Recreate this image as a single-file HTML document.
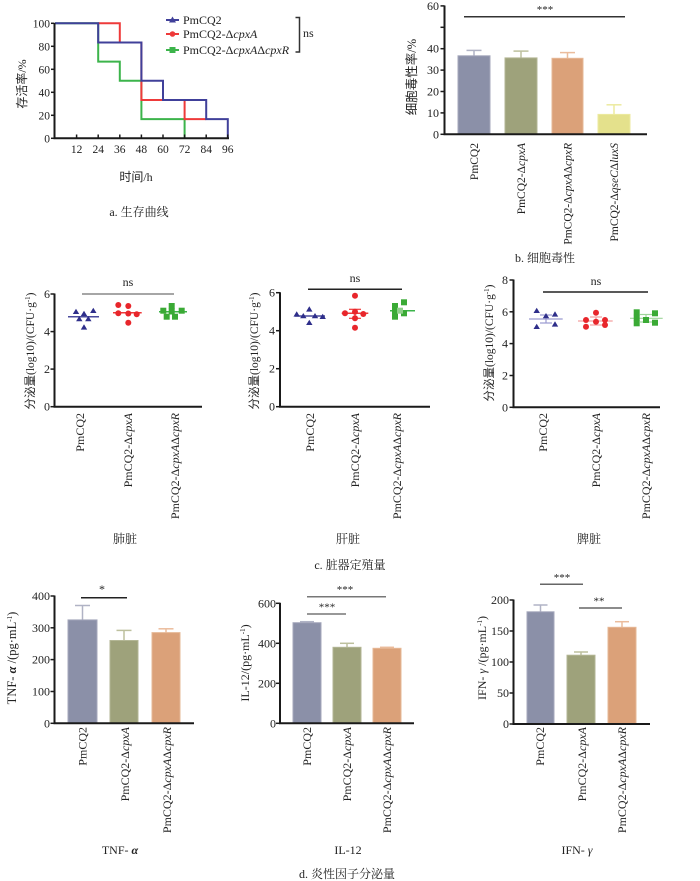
<!DOCTYPE html>
<html><head><meta charset="utf-8"><style>
html,body{margin:0;padding:0;background:#fff;}
svg{display:block;}
.t{font-family:"Liberation Serif","Noto Serif CJK SC",serif;fill:#222;}
.cj{font-family:"Liberation Serif","Noto Sans CJK SC",sans-serif;fill:#222;}
.cap{font-family:"Liberation Serif","Noto Serif CJK SC",serif;fill:#222;font-size:12px;}
.ax{stroke:#1a1a1a;stroke-width:2;fill:none;}
.tk{stroke:#1a1a1a;stroke-width:1.5;}
</style></head><body>
<svg width="700" height="881" viewBox="0 0 700 881" xmlns="http://www.w3.org/2000/svg">
<rect width="700" height="881" fill="#fff"/>

<!-- ===== Panel a ===== -->
<g>
<path d="M55,23.3 H98.2 V61.6 H119.8 V80.8 H141.4 V119.1 H184.6 V138.3" stroke="#3cb44b" stroke-width="2" fill="none"/>
<path d="M98.2,23.3 H119.8 V42.5 H141.4 V100 H184.6 V119.1 H206.2" stroke="#ee3a3a" stroke-width="2" fill="none"/>
<path d="M55,23.3 H98.2 V42.5 H141.4 V80.8 H163 V100 H206.2 V119.1 H227.8 V138.3" stroke="#40409a" stroke-width="2" fill="none"/>
<path class="ax" d="M54.5,23 V138.3 H229"/>
<g class="tk">
<line x1="51" y1="23.3" x2="54.5" y2="23.3"/><line x1="51" y1="46.3" x2="54.5" y2="46.3"/>
<line x1="51" y1="69.3" x2="54.5" y2="69.3"/><line x1="51" y1="92.3" x2="54.5" y2="92.3"/>
<line x1="51" y1="115.3" x2="54.5" y2="115.3"/>
<line x1="51" y1="138.3" x2="54.5" y2="138.3"/>
<line x1="76.6" y1="134.5" x2="76.6" y2="138.3"/><line x1="98.2" y1="134.5" x2="98.2" y2="138.3"/>
<line x1="119.8" y1="134.5" x2="119.8" y2="138.3"/><line x1="141.4" y1="134.5" x2="141.4" y2="138.3"/>
<line x1="163" y1="134.5" x2="163" y2="138.3"/><line x1="184.6" y1="134.5" x2="184.6" y2="138.3"/>
<line x1="206.2" y1="134.5" x2="206.2" y2="138.3"/><line x1="227.8" y1="134.5" x2="227.8" y2="138.3"/>
</g>
<g class="t" font-size="11.5" text-anchor="end">
<text x="50" y="27.3">100</text><text x="50" y="50.3">80</text><text x="50" y="73.3">60</text>
<text x="50" y="96.3">40</text><text x="50" y="119.3">20</text><text x="50" y="142.3">0</text>
</g>
<g class="t" font-size="11.5" text-anchor="middle">
<text x="76.6" y="153">12</text><text x="98.2" y="153">24</text><text x="119.8" y="153">36</text>
<text x="141.4" y="153">48</text><text x="163" y="153">60</text><text x="184.6" y="153">72</text>
<text x="206.2" y="153">84</text><text x="227.8" y="153">96</text>
</g>
<text class="cj" font-size="12" text-anchor="middle" transform="rotate(-90 26 84)" x="26" y="84">存活率/%</text>
<text class="cj" font-size="12" text-anchor="middle" x="136" y="181">时间/h</text>
<!-- legend -->
<line x1="166" y1="20" x2="179" y2="20" stroke="#40409a" stroke-width="2"/>
<polygon points="172.5,16.5 176,22.5 169,22.5" fill="#40409a"/>
<line x1="166" y1="34" x2="179" y2="34" stroke="#ee3a3a" stroke-width="2"/>
<circle cx="172.5" cy="34" r="2.8" fill="#ee3a3a"/>
<line x1="166" y1="50" x2="179" y2="50" stroke="#3cb44b" stroke-width="2"/>
<rect x="169.5" y="47" width="6" height="6" fill="#3cb44b"/>
<g class="t" font-size="12">
<text x="183" y="24">PmCQ2</text>
<text x="183" y="38">PmCQ2-Δ<tspan font-style="italic">cpxA</tspan></text>
<text x="183" y="54">PmCQ2-Δ<tspan font-style="italic">cpxA</tspan>Δ<tspan font-style="italic">cpxR</tspan></text>
</g>
<path d="M295.5,17.5 H299.5 V52 H295.5" stroke="#333" stroke-width="1.5" fill="none"/>
<text class="t" font-size="12" x="303" y="37">ns</text>
<text class="cap" text-anchor="middle" x="139" y="216">a. 生存曲线</text>
</g>

<!-- ===== Panel b ===== -->
<g>
<line x1="464" y1="16.7" x2="625" y2="16.7" stroke="#333" stroke-width="1.5"/>
<text class="t" font-size="11" text-anchor="middle" x="545" y="13">***</text>
<g stroke-width="1.5">
<line x1="474" y1="55.8" x2="474" y2="50.4" stroke="#b0b3c5"/><line x1="466.5" y1="50.4" x2="481.5" y2="50.4" stroke="#b0b3c5"/>
<line x1="521" y1="57.9" x2="521" y2="51.1" stroke="#bdc09e"/><line x1="513.5" y1="51.1" x2="528.5" y2="51.1" stroke="#bdc09e"/>
<line x1="567.5" y1="58.3" x2="567.5" y2="52.6" stroke="#ebbc9c"/><line x1="560" y1="52.6" x2="575" y2="52.6" stroke="#ebbc9c"/>
<line x1="614" y1="114.4" x2="614" y2="104.8" stroke="#ecea9f"/><line x1="606.5" y1="104.8" x2="621.5" y2="104.8" stroke="#ecea9f"/>
</g>
<rect x="458" y="55.8" width="32" height="78.5" fill="#8b90a8" stroke="#a4a7bb" stroke-width="1"/>
<rect x="505" y="57.9" width="32" height="76.4" fill="#9ea27b" stroke="#b3b695" stroke-width="1"/>
<rect x="552" y="58.3" width="31" height="76" fill="#dba179" stroke="#e6b896" stroke-width="1"/>
<rect x="598" y="114.4" width="32" height="19.9" fill="#e4e18c" stroke="#ecea9f" stroke-width="1"/>
<path class="ax" d="M444.5,5.5 V134.3 H647"/>
<g class="tk">
<line x1="440.5" y1="5.9" x2="444.5" y2="5.9"/><line x1="440.5" y1="27.3" x2="444.5" y2="27.3"/>
<line x1="440.5" y1="48.7" x2="444.5" y2="48.7"/><line x1="440.5" y1="70.1" x2="444.5" y2="70.1"/>
<line x1="440.5" y1="91.5" x2="444.5" y2="91.5"/><line x1="440.5" y1="112.9" x2="444.5" y2="112.9"/>
<line x1="440.5" y1="134.3" x2="444.5" y2="134.3"/>
</g>
<g class="t" font-size="12" text-anchor="end">
<text x="439" y="10">60</text><text x="439" y="52.7">40</text><text x="439" y="74.1">30</text>
<text x="439" y="95.5">20</text><text x="439" y="116.9">10</text><text x="439" y="138.3">0</text>
</g>
<text class="cj" font-size="12.5" text-anchor="middle" transform="rotate(-90 416 77)" x="416" y="77">细胞毒性率/%</text>
<g class="t" font-size="11.5" text-anchor="end">
<text transform="rotate(-90 478 143)" x="478" y="143">PmCQ2</text>
<text transform="rotate(-90 525 143)" x="525" y="143">PmCQ2-Δ<tspan font-style="italic">cpxA</tspan></text>
<text transform="rotate(-90 571.5 143)" x="571.5" y="143">PmCQ2-Δ<tspan font-style="italic">cpxA</tspan>Δ<tspan font-style="italic">cpxR</tspan></text>
<text transform="rotate(-90 618 143)" x="618" y="143">PmCQ2-Δ<tspan font-style="italic">qseC</tspan>Δ<tspan font-style="italic">luxS</tspan></text>
</g>
<text class="cap" text-anchor="middle" x="545" y="262">b. 细胞毒性</text>
</g>

<!-- ===== Panel c left ===== -->
<g>
<line x1="82" y1="294" x2="174" y2="294" stroke="#888" stroke-width="1.5"/>
<text class="t" font-size="12" text-anchor="middle" x="128" y="286">ns</text>
<path class="ax" d="M54.5,293.5 V406.7 H202"/>
<g class="tk">
<line x1="50.5" y1="294" x2="54.5" y2="294"/><line x1="50.5" y1="331.6" x2="54.5" y2="331.6"/>
<line x1="50.5" y1="369.1" x2="54.5" y2="369.1"/><line x1="50.5" y1="406.7" x2="54.5" y2="406.7"/>
</g>
<g class="t" font-size="12" text-anchor="end">
<text x="50" y="298">6</text><text x="50" y="335.6">4</text><text x="50" y="373.1">2</text><text x="50" y="410.7">0</text>
</g>
<line x1="68" y1="316.7" x2="99" y2="316.7" stroke="#4a4a9c" stroke-width="1.5"/>
<g fill="#2e2e8a">
<polygon points="76,308.7 79.2,314 72.8,314"/><polygon points="84,310.7 87.2,316 80.8,316"/>
<polygon points="93.3,307.7 96.5,313 90.1,313"/><polygon points="79.3,316 82.5,321.3 76.1,321.3"/>
<polygon points="88.3,316 91.5,321.3 85.1,321.3"/><polygon points="84,324.3 87.2,329.6 80.8,329.6"/>
</g>
<line x1="113" y1="312.7" x2="141.7" y2="312.7" stroke="#ee3a3a" stroke-width="1.5"/>
<g fill="#e8262b">
<circle cx="118.3" cy="305" r="3"/><circle cx="128.3" cy="306" r="3"/><circle cx="118.3" cy="313.3" r="3"/>
<circle cx="136.7" cy="314.3" r="3"/><circle cx="128.3" cy="322.7" r="3"/><circle cx="128.3" cy="313.5" r="3"/>
</g>
<line x1="159" y1="311.7" x2="187" y2="311.7" stroke="#3cb44b" stroke-width="1.5"/>
<g fill="#3aaa35">
<rect x="160.3" y="307.7" width="6" height="6"/><rect x="168.7" y="303" width="6" height="6"/>
<rect x="178.7" y="307.7" width="6" height="6"/><rect x="163.7" y="313.7" width="6" height="6"/>
<rect x="172" y="313.7" width="6" height="6"/><rect x="168.7" y="308.5" width="6" height="6"/>
</g>
<text class="cj" font-size="11.5" text-anchor="middle" transform="rotate(-90 34 351)" x="34" y="351">分泌量(log10)/(CFU·g<tspan font-size="7" dy="-4">-1</tspan><tspan dy="4">)</tspan></text>
<g class="t" font-size="12" text-anchor="end">
<text transform="rotate(-90 84 413)" x="84" y="413">PmCQ2</text>
<text transform="rotate(-90 132 413)" x="132" y="413">PmCQ2-Δ<tspan font-style="italic">cpxA</tspan></text>
<text transform="rotate(-90 179 413)" x="179" y="413">PmCQ2-Δ<tspan font-style="italic">cpxA</tspan>Δ<tspan font-style="italic">cpxR</tspan></text>
</g>
<text class="cap" text-anchor="middle" x="125" y="543">肺脏</text>
</g>

<!-- ===== Panel c middle ===== -->
<g>
<line x1="308" y1="289.3" x2="402" y2="289.3" stroke="#222" stroke-width="1.5"/>
<text class="t" font-size="12" text-anchor="middle" x="355" y="282">ns</text>
<path class="ax" d="M280,292.2 V406.7 H430"/>
<g class="tk">
<line x1="276" y1="292.7" x2="280" y2="292.7"/><line x1="276" y1="330.7" x2="280" y2="330.7"/>
<line x1="276" y1="368.7" x2="280" y2="368.7"/><line x1="276" y1="406.7" x2="280" y2="406.7"/>
</g>
<g class="t" font-size="12" text-anchor="end">
<text x="275" y="296.7">6</text><text x="275" y="334.7">4</text><text x="275" y="372.7">2</text><text x="275" y="410.7">0</text>
</g>
<line x1="295" y1="316" x2="325" y2="316" stroke="#4a4a9c" stroke-width="1.5"/>
<g fill="#2e2e8a">
<polygon points="296.7,311.3 299.9,316.6 293.5,316.6"/><polygon points="309.3,306.3 312.5,311.6 306.1,311.6"/>
<polygon points="322.7,313.7 325.9,319 319.5,319"/><polygon points="309.3,319.7 312.5,325 306.1,325"/>
<polygon points="303.3,313 306.5,318.3 300.1,318.3"/><polygon points="315,313 318.2,318.3 311.8,318.3"/>
</g>
<g stroke="#ee3a3a" stroke-width="1.2">
<line x1="355" y1="309.3" x2="355" y2="318.3"/><line x1="349" y1="309.3" x2="361" y2="309.3"/><line x1="349" y1="318.3" x2="361" y2="318.3"/>
</g>
<line x1="341.7" y1="313.3" x2="368.3" y2="313.3" stroke="#ee3a3a" stroke-width="1.5"/>
<g fill="#e8262b">
<circle cx="355" cy="295.7" r="3"/><circle cx="345" cy="313.3" r="3"/><circle cx="363.3" cy="314" r="3"/>
<circle cx="355" cy="311.7" r="3"/><circle cx="355" cy="318.3" r="3"/><circle cx="355" cy="327.7" r="3"/>
</g>
<line x1="390" y1="310.7" x2="415" y2="310.7" stroke="#3cb44b" stroke-width="1.5"/>
<g fill="#3aaa35">
<rect x="392" y="303" width="6" height="6"/><rect x="401" y="299.3" width="6" height="6"/>
<rect x="392" y="313.7" width="6" height="6"/><rect x="401" y="310.3" width="6" height="6"/>
<rect x="392" y="308" width="6" height="6"/><rect x="397" y="307.7" width="6" height="6" fill="#8fd08a"/>
</g>
<text class="cj" font-size="11.5" text-anchor="middle" transform="rotate(-90 258 351)" x="258" y="351">分泌量(log10)/(CFU·g<tspan font-size="7" dy="-4">-1</tspan><tspan dy="4">)</tspan></text>
<g class="t" font-size="12" text-anchor="end">
<text transform="rotate(-90 314 413)" x="314" y="413">PmCQ2</text>
<text transform="rotate(-90 359 413)" x="359" y="413">PmCQ2-Δ<tspan font-style="italic">cpxA</tspan></text>
<text transform="rotate(-90 401 413)" x="401" y="413">PmCQ2-Δ<tspan font-style="italic">cpxA</tspan>Δ<tspan font-style="italic">cpxR</tspan></text>
</g>
<text class="cap" text-anchor="middle" x="348" y="543">肝脏</text>
<text class="cap" text-anchor="middle" x="350" y="569">c. 脏器定殖量</text>
</g>

<!-- ===== Panel c right ===== -->
<g>
<line x1="543" y1="292" x2="648" y2="292" stroke="#222" stroke-width="1.5"/>
<text class="t" font-size="12" text-anchor="middle" x="596" y="285">ns</text>
<path class="ax" d="M513.5,279.5 V407.3 H660"/>
<g class="tk">
<line x1="509.5" y1="280" x2="513.5" y2="280"/><line x1="509.5" y1="311.8" x2="513.5" y2="311.8"/>
<line x1="509.5" y1="343.6" x2="513.5" y2="343.6"/><line x1="509.5" y1="375.5" x2="513.5" y2="375.5"/>
<line x1="509.5" y1="407.3" x2="513.5" y2="407.3"/>
</g>
<g class="t" font-size="12" text-anchor="end">
<text x="508" y="284">8</text><text x="508" y="315.8">6</text><text x="508" y="347.6">4</text>
<text x="508" y="379.5">2</text><text x="508" y="411.3">0</text>
</g>
<g stroke="#9a9ad0" stroke-width="1.2">
<line x1="529" y1="319" x2="562.7" y2="319"/><line x1="546" y1="315" x2="546" y2="323"/>
<line x1="540" y1="315" x2="552" y2="315"/><line x1="540" y1="323" x2="552" y2="323"/>
</g>
<g fill="#2e2e8a">
<polygon points="536.7,307.7 539.9,313 533.5,313"/><polygon points="546,313 549.2,318.3 542.8,318.3"/>
<polygon points="555,311.3 558.2,316.6 551.8,316.6"/><polygon points="536.7,323.7 539.9,329 533.5,329"/>
<polygon points="555,321.3 558.2,326.6 551.8,326.6"/>
</g>
<g stroke="#f3a0a0" stroke-width="1.2">
<line x1="578" y1="321" x2="612.7" y2="321"/><line x1="596" y1="317" x2="596" y2="325"/>
<line x1="590" y1="317" x2="602" y2="317"/><line x1="590" y1="325" x2="602" y2="325"/>
</g>
<g fill="#e8262b">
<circle cx="586" cy="320" r="3"/><circle cx="596" cy="312.7" r="3"/><circle cx="605" cy="320" r="3"/>
<circle cx="586" cy="326.7" r="3"/><circle cx="605" cy="325" r="3"/><circle cx="596" cy="321.7" r="3"/>
</g>
<g stroke="#9ed49a" stroke-width="1.2">
<line x1="630" y1="318.3" x2="662.7" y2="318.3"/><line x1="646" y1="314.5" x2="646" y2="322"/>
<line x1="640" y1="314.5" x2="652" y2="314.5"/><line x1="640" y1="322" x2="652" y2="322"/>
</g>
<g fill="#3aaa35">
<rect x="633.7" y="309.3" width="6" height="6"/><rect x="652" y="310.3" width="6" height="6"/>
<rect x="633.7" y="320.3" width="6" height="6"/><rect x="643" y="317" width="6" height="6"/>
<rect x="652" y="319.7" width="6" height="6"/><rect x="633.7" y="314.7" width="6" height="6"/>
</g>
<text class="cj" font-size="11.5" text-anchor="middle" transform="rotate(-90 493 343)" x="493" y="343">分泌量(log10)/(CFU·g<tspan font-size="7" dy="-4">-1</tspan><tspan dy="4">)</tspan></text>
<g class="t" font-size="12" text-anchor="end">
<text transform="rotate(-90 547 413)" x="547" y="413">PmCQ2</text>
<text transform="rotate(-90 600 413)" x="600" y="413">PmCQ2-Δ<tspan font-style="italic">cpxA</tspan></text>
<text transform="rotate(-90 650 413)" x="650" y="413">PmCQ2-Δ<tspan font-style="italic">cpxA</tspan>Δ<tspan font-style="italic">cpxR</tspan></text>
</g>
<text class="cap" text-anchor="middle" x="589" y="543">脾脏</text>
</g>

<!-- ===== Panel d left ===== -->
<g>
<line x1="81" y1="597.7" x2="127" y2="597.7" stroke="#222" stroke-width="1.5"/>
<text class="t" font-size="12" text-anchor="middle" x="102" y="593">*</text>
<g stroke-width="1.5">
<line x1="82.5" y1="619.9" x2="82.5" y2="605.5" stroke="#b0b3c5"/><line x1="75" y1="605.5" x2="90" y2="605.5" stroke="#b0b3c5"/>
<line x1="124" y1="640.5" x2="124" y2="630.4" stroke="#bdc09e"/><line x1="116.5" y1="630.4" x2="131.5" y2="630.4" stroke="#bdc09e"/>
<line x1="166" y1="632.6" x2="166" y2="628.8" stroke="#ebbc9c"/><line x1="158.5" y1="628.8" x2="173.5" y2="628.8" stroke="#ebbc9c"/>
</g>
<rect x="68" y="619.9" width="29" height="103.4" fill="#8b90a8" stroke="#a4a7bb" stroke-width="1"/>
<rect x="110" y="640.5" width="28" height="82.8" fill="#9ea27b" stroke="#b3b695" stroke-width="1"/>
<rect x="152" y="632.6" width="28" height="90.7" fill="#dba179" stroke="#e6b896" stroke-width="1"/>
<path class="ax" d="M54.5,595.5 V723.3 H194"/>
<g class="tk">
<line x1="50.5" y1="596" x2="54.5" y2="596"/><line x1="50.5" y1="627.8" x2="54.5" y2="627.8"/>
<line x1="50.5" y1="659.6" x2="54.5" y2="659.6"/><line x1="50.5" y1="691.5" x2="54.5" y2="691.5"/>
<line x1="50.5" y1="723.3" x2="54.5" y2="723.3"/>
</g>
<g class="t" font-size="12" text-anchor="end">
<text x="50" y="600">400</text><text x="50" y="631.8">300</text><text x="50" y="663.6">200</text>
<text x="50" y="695.5">100</text><text x="50" y="727.3">0</text>
</g>
<text class="t" font-size="12.5" text-anchor="middle" transform="rotate(-90 16 658)" x="16" y="658">TNF- <tspan font-weight="bold" font-style="italic">α</tspan> /(pg·mL<tspan font-size="7" dy="-4">-1</tspan><tspan dy="4">)</tspan></text>
<g class="t" font-size="12" text-anchor="end">
<text transform="rotate(-90 86.5 727)" x="86.5" y="727">PmCQ2</text>
<text transform="rotate(-90 129 727)" x="129" y="727">PmCQ2-Δ<tspan font-style="italic">cpxA</tspan></text>
<text transform="rotate(-90 171 727)" x="171" y="727">PmCQ2-Δ<tspan font-style="italic">cpxA</tspan>Δ<tspan font-style="italic">cpxR</tspan></text>
</g>
<text class="t" font-size="12" text-anchor="middle" x="120" y="854">TNF- <tspan font-weight="bold" font-style="italic">α</tspan></text>
</g>

<!-- ===== Panel d middle ===== -->
<g>
<line x1="307" y1="596.7" x2="386" y2="596.7" stroke="#777" stroke-width="1.5"/>
<text class="t" font-size="11" text-anchor="middle" x="345" y="593" fill="#555">***</text>
<line x1="307" y1="614" x2="346" y2="614" stroke="#777" stroke-width="1.5"/>
<text class="t" font-size="11" text-anchor="middle" x="327" y="610.5" fill="#555">***</text>
<g stroke-width="1.5">
<line x1="307" y1="622.7" x2="307" y2="621.7" stroke="#b0b3c5"/><line x1="300" y1="621.7" x2="314" y2="621.7" stroke="#b0b3c5"/>
<line x1="347" y1="647.3" x2="347" y2="643.3" stroke="#bdc09e"/><line x1="340" y1="643.3" x2="354" y2="643.3" stroke="#bdc09e"/>
<line x1="387" y1="648.3" x2="387" y2="647.3" stroke="#ebbc9c"/><line x1="380" y1="647.3" x2="394" y2="647.3" stroke="#ebbc9c"/>
</g>
<rect x="293" y="622.7" width="28" height="100.6" fill="#8b90a8" stroke="#a4a7bb" stroke-width="1"/>
<rect x="333" y="647.3" width="28" height="76" fill="#9ea27b" stroke="#b3b695" stroke-width="1"/>
<rect x="373" y="648.3" width="28" height="75" fill="#dba179" stroke="#e6b896" stroke-width="1"/>
<path class="ax" d="M280,602.8 V723.3 H414"/>
<g class="tk">
<line x1="276" y1="603.3" x2="280" y2="603.3"/><line x1="276" y1="643.3" x2="280" y2="643.3"/>
<line x1="276" y1="683.3" x2="280" y2="683.3"/><line x1="276" y1="723.3" x2="280" y2="723.3"/>
</g>
<g class="t" font-size="12" text-anchor="end">
<text x="276" y="607.3">600</text><text x="276" y="647.3">400</text><text x="276" y="687.3">200</text><text x="276" y="727.3">0</text>
</g>
<text class="t" font-size="12" text-anchor="middle" transform="rotate(-90 249 663)" x="249" y="663">IL-12/(pg·mL<tspan font-size="7" dy="-4">-1</tspan><tspan dy="4">)</tspan></text>
<g class="t" font-size="12" text-anchor="end">
<text transform="rotate(-90 311 727)" x="311" y="727">PmCQ2</text>
<text transform="rotate(-90 351 727)" x="351" y="727">PmCQ2-Δ<tspan font-style="italic">cpxA</tspan></text>
<text transform="rotate(-90 391 727)" x="391" y="727">PmCQ2-Δ<tspan font-style="italic">cpxA</tspan>Δ<tspan font-style="italic">cpxR</tspan></text>
</g>
<text class="t" font-size="12" text-anchor="middle" x="348" y="854">IL-12</text>
<text class="cap" text-anchor="middle" x="347" y="878">d. 炎性因子分泌量</text>
</g>

<!-- ===== Panel d right ===== -->
<g>
<line x1="540" y1="584.3" x2="583" y2="584.3" stroke="#666" stroke-width="1.5"/>
<text class="t" font-size="11" text-anchor="middle" x="562" y="581" fill="#555">***</text>
<line x1="579" y1="608" x2="622" y2="608" stroke="#666" stroke-width="1.5"/>
<text class="t" font-size="11" text-anchor="middle" x="599" y="604.5" fill="#555">**</text>
<g stroke-width="1.5">
<line x1="540.5" y1="611.8" x2="540.5" y2="605" stroke="#b0b3c5"/><line x1="533.5" y1="605" x2="547.5" y2="605" stroke="#b0b3c5"/>
<line x1="581" y1="655.2" x2="581" y2="652" stroke="#bdc09e"/><line x1="574" y1="652" x2="588" y2="652" stroke="#bdc09e"/>
<line x1="622" y1="627.3" x2="622" y2="621.7" stroke="#ebbc9c"/><line x1="615" y1="621.7" x2="629" y2="621.7" stroke="#ebbc9c"/>
</g>
<rect x="527" y="611.8" width="27" height="112.2" fill="#8b90a8" stroke="#a4a7bb" stroke-width="1"/>
<rect x="567" y="655.2" width="28" height="68.8" fill="#9ea27b" stroke="#b3b695" stroke-width="1"/>
<rect x="608" y="627.3" width="28" height="96.7" fill="#dba179" stroke="#e6b896" stroke-width="1"/>
<path class="ax" d="M513.5,599.5 V724 H650"/>
<g class="tk">
<line x1="509.5" y1="600" x2="513.5" y2="600"/><line x1="509.5" y1="631" x2="513.5" y2="631"/>
<line x1="509.5" y1="662" x2="513.5" y2="662"/><line x1="509.5" y1="693" x2="513.5" y2="693"/>
<line x1="509.5" y1="724" x2="513.5" y2="724"/>
</g>
<g class="t" font-size="12" text-anchor="end">
<text x="509" y="604">200</text><text x="509" y="635">150</text><text x="509" y="666">100</text>
<text x="509" y="697">50</text><text x="509" y="728">0</text>
</g>
<text class="t" font-size="12" text-anchor="middle" transform="rotate(-90 486 658)" x="486" y="658">IFN- <tspan font-style="italic">γ</tspan> /(pg·mL<tspan font-size="7" dy="-4">-1</tspan><tspan dy="4">)</tspan></text>
<g class="t" font-size="12" text-anchor="end">
<text transform="rotate(-90 544 727)" x="544" y="727">PmCQ2</text>
<text transform="rotate(-90 586 727)" x="586" y="727">PmCQ2-Δ<tspan font-style="italic">cpxA</tspan></text>
<text transform="rotate(-90 626 727)" x="626" y="727">PmCQ2-Δ<tspan font-style="italic">cpxA</tspan>Δ<tspan font-style="italic">cpxR</tspan></text>
</g>
<text class="t" font-size="12" text-anchor="middle" x="577" y="854">IFN- <tspan font-style="italic">γ</tspan></text>
</g>
</svg>
</body></html>
